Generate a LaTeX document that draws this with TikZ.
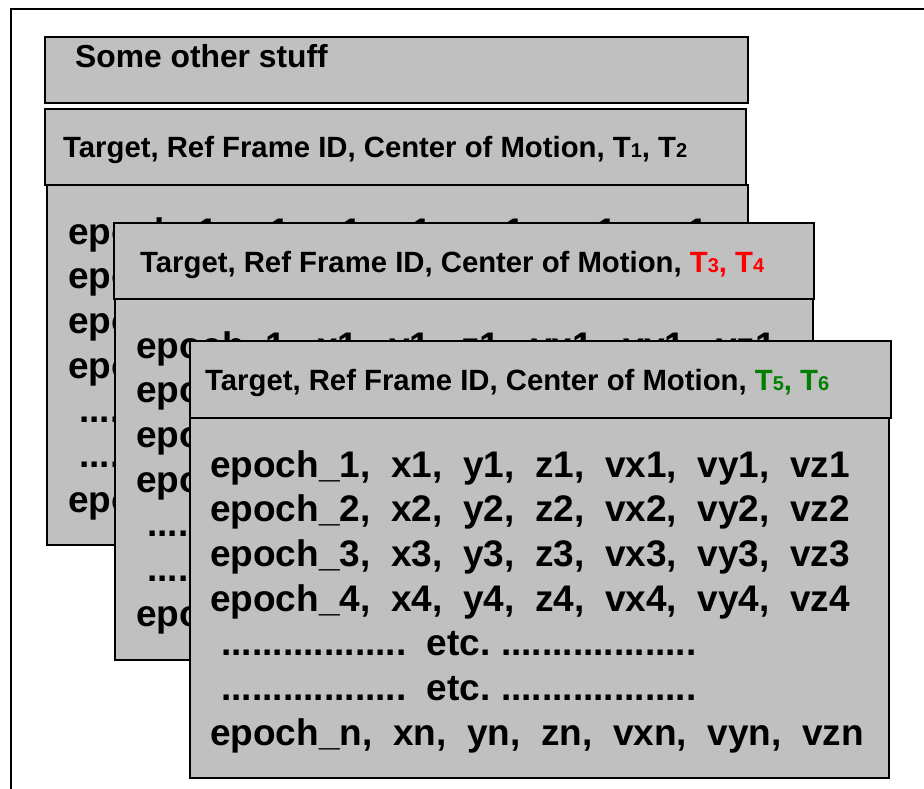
\documentclass[tikz,border=0pt]{standalone}
\usepackage{fontspec}
\setmainfont{Liberation Sans}
\usetikzlibrary{positioning, calc}

\definecolor{boxgray}{RGB}{192,192,192}
\definecolor{tred}{RGB}{255,0,0}
\definecolor{tgreen}{RGB}{0,128,0}

\newcommand{\sub}[1]{{\fontsize{20}{20}\selectfont #1}}
\newcommand{\hdrtext}{Target, Ref Frame ID, Center of Motion,}
\newcommand{\epochrows}{%
epoch\_1,\ \ x1,\ \ y1,\ \ z1,\ \ vx1,\ \ vy1,\ \ vz1\\
epoch\_2,\ \ x2,\ \ y2,\ \ z2,\ \ vx2,\ \ vy2,\ \ vz2\\
epoch\_3,\ \ x3,\ \ y3,\ \ z3,\ \ vx3,\ \ vy3,\ \ vz3\\
epoch\_4,\ \ x4,\ \ y4,\ \ z4,\ \ vx4,\ \ vy4,\ \ vz4\\
\hspace*{0.3em}..................\ \ etc.\ ...................\\
\hspace*{0.3em}..................\ \ etc.\ ...................\\
epoch\_n,\ \ xn,\ \ yn,\ \ zn,\ \ vxn,\ \ vyn,\ \ vzn}

\tikzset{
  panel/.style={rectangle, draw=black, line width=2pt, fill=boxgray,
    inner sep=0pt, anchor=north west},
  hdrlabel/.style={anchor=base west, inner sep=0pt,
    font=\bfseries\fontsize{29.3}{34}\selectfont},
  rows/.style={anchor=north west, inner sep=0pt, align=left,
    font=\bfseries\fontsize{37}{44.7}\selectfont}
}

\begin{document}
\begin{tikzpicture}[x=1pt, y=-1pt]

    \useasboundingbox (0,0) rectangle (924,789);

    % outer frame (runs off the page right and bottom)
    \draw[line width=2pt] (924,9) -- (11,9) -- (11,789);

    \node[panel, minimum width=703pt, minimum height=66pt] (stuff) at (44,36) {};
    \node[anchor=base west, inner sep=0pt,
      font=\bfseries\fontsize{31.8}{36}\selectfont]
      (stufftxt) at ($(stuff.north west)+(31,32)$) {Some other stuff};

    % first set
    \node[panel, minimum width=701pt, minimum height=76pt] (head1) at (44,108) {};
    \node[hdrlabel] (head1txt) at ($(head1.north west)+(19,50)$)
      {\hdrtext{} T\sub{1}, T\sub{2}};

    \node[panel, minimum width=701pt, minimum height=360pt] (body1) at (46,184) {};
    \node[rows] (body1txt) at ($(body1.north west)+(22,33)$) {\epochrows};

    % second set
    \node[panel, minimum width=700pt, minimum height=76pt] (head2) at (113,222) {};
    \node[hdrlabel] (head2txt) at ($(head2.north west)+(27,50)$)
      {\hdrtext{} \textcolor{tred}{T\sub{3}, T\sub{4}}};

    \node[panel, minimum width=698pt, minimum height=361pt] (body2) at (114,298) {};
    \node[rows] (body2txt) at ($(body2.north west)+(22,33)$) {\epochrows};

    % third set
    \node[panel, minimum width=701pt, minimum height=77pt] (head3) at (189,340) {};
    \node[hdrlabel] (head3txt) at ($(head3.north west)+(16,50)$)
      {\hdrtext{} \textcolor{tgreen}{T\sub{5}, T\sub{6}}};

    \node[panel, minimum width=699pt, minimum height=360pt] (body3) at (189,417) {};
    \node[rows] (body3txt) at ($(body3.north west)+(21,33)$) {\epochrows};

\end{tikzpicture}
\end{document}
